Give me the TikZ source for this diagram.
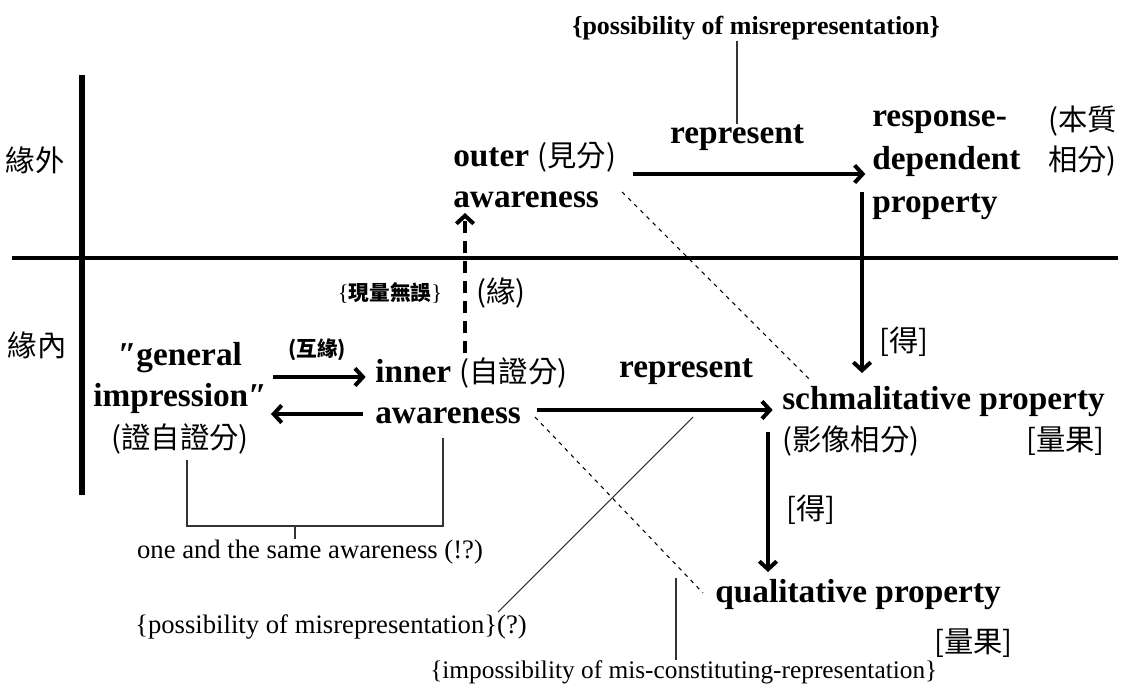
\documentclass[tikz,border=0pt]{standalone}
\usepackage{fontspec}
\setmainfont{Liberation Serif}
\newfontfamily\cjk{Noto Sans CJK TC}
\usetikzlibrary{positioning}
\usetikzlibrary{arrows.meta}
\newcommand{\zh}[1]{{\cjk\mdseries\fontsize{22}{30}\selectfont #1}}

\begin{document}
\begin{tikzpicture}[x=0.75pt, y=-0.75pt,
	term/.style={font=\fontsize{25}{30.5}\selectfont\bfseries, inner sep=0pt, align=left},
	note/.style={font=\fontsize{20}{22}\selectfont, inner sep=0pt},
	zhlbl/.style={font=\cjk\fontsize{22}{26}\selectfont, inner sep=0pt},
	zhsmall/.style={font=\cjk\bfseries\fontsize{15.5}{18}\selectfont, inner sep=0pt},
	axis/.style={line width=3pt},
	arr/.style={line width=3pt, -{Straight Barb[length=6pt,width=13pt]}},
	thinline/.style={line width=0.8pt, black!80},
	faint/.style={line width=0.8pt, dash pattern=on 3pt off 3.5pt}]

	\useasboundingbox (0,0) rectangle (1126,692);

	% axes
	\draw[line width=4.5pt] (82,75) -- (82,495);
	\draw[axis] (12,258) -- (1118,258);
	\node[zhlbl] (outside) at (35,160) {緣外};
	\node[zhlbl] (inside) at (37,345) {緣內};

	% terms (base = last line)
	\node[term, anchor=base west] (outer) at (453,207) {outer \zh{(見分)}\\awareness};
	\node[term, anchor=base west, font=\fontsize{25}{32}\selectfont\bfseries] (resp) at (872,212) {response-\\dependent\\property};
	\node[anchor=base east, inner sep=0pt, align=right, font=\cjk\fontsize{22}{30}\selectfont] (respzh) at (1117,170) {(本質\\相分)};
	\node[term, anchor=base west] (inner) at (375,423) {inner \zh{(自證分)}\\awareness};
	\node[term, anchor=base, align=center, font=\fontsize{25}{31}\selectfont\bfseries] (gen) at (180,448) {″general\\impression″\\\zh{(證自證分)}};
	\node[term, anchor=base west] (schm) at (782,450) {schmalitative property\\\zh{(影像相分)}};
	\node[anchor=base east, inner sep=0pt] (schmq) at (1105,450) {\zh{[量果]}};
	\node[term, anchor=base west] (qual) at (715,602) {qualitative property};
	\node[anchor=base east, inner sep=0pt] (qualq) at (1013,652) {\zh{[量果]}};

	% labels
	\node[term, anchor=base] (rep1) at (737,143) {represent};
	\node[term, anchor=base] (rep2) at (686,377) {represent};
	\node[note, anchor=base west, font=\fontsize{19.5}{22}\selectfont\bfseries] (ptop) at (572,35) {\{possibility of misrepresentation\}};
	\node[note, anchor=base west] (pmid) at (135,633) {\{possibility of misrepresentation\}(?)};
	\node[note, anchor=base] (same) at (310,558) {one and the same awareness (!?)};
	\node[note, anchor=base west, font=\fontsize{19}{22}\selectfont] (imposs) at (430,678) {\{impossibility of mis-constituting-representation\}};
	\node[zhsmall] (noerr) at (390,293) {{\rmfamily\mdseries\fontsize{17}{18}\selectfont\{}現量無誤{\rmfamily\mdseries\fontsize{17}{18}\selectfont\}}};
	\node[inner sep=0pt] (yuan) at (501,293) {\zh{(緣)}};
	\node[zhsmall] (mutual) at (317,350) {(互緣)};
	\node[inner sep=0pt] (get1) at (904,342) {\zh{[得]}};
	\node[inner sep=0pt] (get2) at (811,510) {\zh{[得]}};

	% free ends
	\coordinate (o1) at (633,174);
	\coordinate (r1) at (862,192);
	\coordinate (r2) at (862,373);
	\coordinate (a1) at (537,410);
	\coordinate (s1) at (768,432);
	\coordinate (s2) at (768,572);
	\coordinate (g1) at (273,377);
	\coordinate (g2) at (363,414);
	\coordinate (d1) at (465,353);
	\coordinate (d2) at (465,213);
	\coordinate (tick) at (295,526);
	\coordinate (p1) at (498,612);
	\coordinate (p2) at (693,417);
	\coordinate (v1) at (676,578);

	% arrows
	\draw[arr, shorten >=5pt] (o1) -- (o1 -| resp.west);
	\draw[arr] (r1) -- (r2);
	\draw[arr, shorten >=7pt] (a1) -- (a1 -| schm.west);
	\draw[arr] (s1) -- (s2);
	\draw[arr, shorten >=7pt] (g1) -- (g1 -| inner.west);
	\draw[arr, shorten >=3pt] (g2) -- (g2 -| gen.east);
	\draw[arr, dash pattern=on 9pt off 6pt] (d1) -- (d2);

	% brackets and pointers
	\draw[thinline] (187,460) |- (443,526) -- (443,438);
	\draw[thinline] (tick) -- (tick |- same.north);
	\draw[thinline] (p1) -- (p2);
	\draw[thinline] (v1) -- (v1 |- imposs.north);
	\draw[thinline] (rep1.north) -- (rep1.north |- ptop.south);
	\draw[faint] (622,192) -- (810,380);
	\draw[faint] (535,417) -- (703,593);
\end{tikzpicture}
\end{document}
